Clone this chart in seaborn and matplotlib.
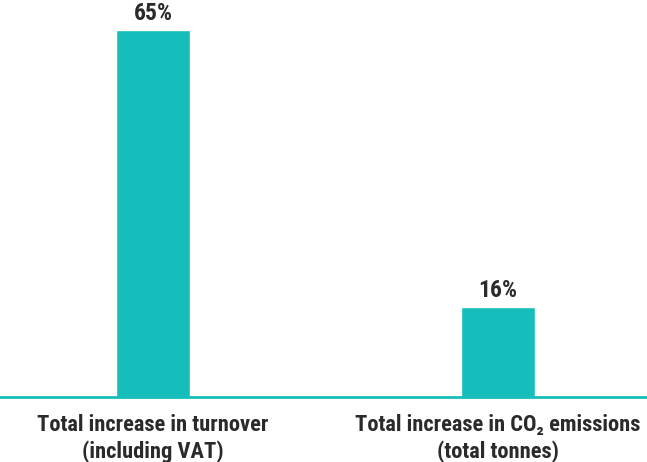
import matplotlib
matplotlib.use("Agg")
import matplotlib.pyplot as plt
import seaborn as sns
import pandas as pd

categories = ["Total increase in turnover\n(including VAT)",
              "Total increase in CO\u2082 emissions\n(total tonnes)"]
values = [65, 16]
value_labels = ["65%", "16%"]

sns.set_theme(style="white")
FONT = ["Roboto Condensed", "DejaVu Sans"]
plt.rcParams["font.family"] = FONT

TEAL = "#15BDBB"
TXT = "#2a2a2a"

df = pd.DataFrame({"cat": categories, "val": values})

fig = plt.figure(figsize=(6.47, 4.62), dpi=100)
ax = fig.add_axes([0, 65/462, 1, 397/462])
sns.barplot(data=df, x="cat", y="val", color=TEAL, saturation=1, width=0.215, ax=ax)

ax.set_xlim(-153/345, 1 + 149/345)
ax.set_ylim(0, 65 * 397 / 367)
for s in ["top", "right", "left"]:
    ax.spines[s].set_visible(False)
ax.spines["bottom"].set_color(TEAL)
ax.spines["bottom"].set_linewidth(2)
ax.set_yticks([])
ax.set_xlabel("")
ax.set_ylabel("")
ax.tick_params(axis="x", length=0, pad=12.5)
for lab in ax.get_xticklabels():
    lab.set_fontsize(16.2)
    lab.set_fontweight("bold")
    lab.set_color(TXT)
    lab.set_linespacing(1.22)

for i, (v, t) in enumerate(zip(values, value_labels)):
    ax.annotate(t, (i, v), xytext=(0, 7), textcoords="offset points",
                ha="center", va="baseline", fontsize=17,
                fontweight="bold", color=TXT)

fig.savefig("out.png", dpi=100)
